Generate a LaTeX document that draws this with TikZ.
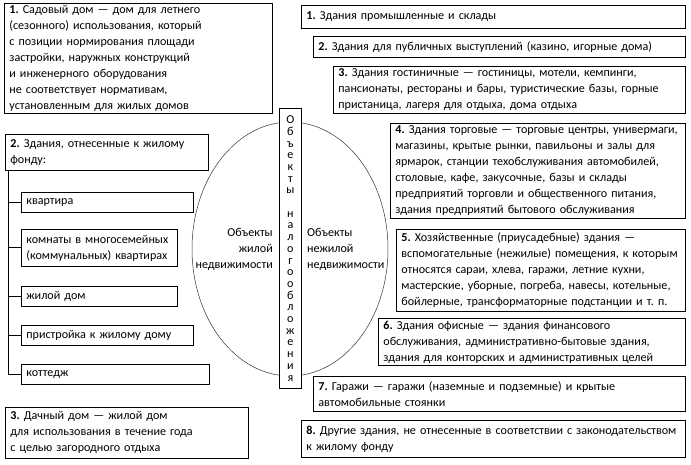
\documentclass[tikz,border=0pt]{standalone}
\usepackage{fontspec}
\setmainfont{Carlito}
\usetikzlibrary{shapes.geometric}
\frenchspacing
\tikzset{
  box/.style={draw, line width=0.8pt, anchor=north west, align=left,
    inner xsep=5pt, inner ysep=0pt, font=\fontsize{12.1}{16}\selectfont,
    execute at begin node={\hbadness=10000\hfuzz=40pt}},
  lbl/.style={font=\fontsize{12.1}{16}\selectfont, inner sep=0pt},
  conn/.style={line width=0.8pt},
}
\begin{document}
\begin{tikzpicture}[x=1pt,y=-1pt]
\useasboundingbox (0,0) rectangle (691,465);
% ellipse
\node[draw, line width=0.5pt, draw=black!80, ellipse, minimum width=196, minimum height=254, inner sep=0pt] (ell) at (290,249) {};
% central vertical box
\node[draw, line width=0.8pt, fill=white, anchor=north west, minimum width=22, minimum height=280, inner sep=0pt, align=center,
  font=\fontsize{12.1}{11.7}\selectfont] (center) at (279,108)
  {О\\б\\ъ\\е\\к\\т\\ы\\~\\н\\а\\л\\о\\г\\о\\о\\б\\л\\о\\ж\\е\\н\\и\\я};
\node[lbl, align=right, anchor=east] (liv) at (273,249) {Объекты\\жилой\\недвижимости};
\node[lbl, align=left, anchor=west] (nliv) at (307,249) {Объекты\\нежилой\\недвижимости};
% left boxes
\node[box, minimum width=268, minimum height=110, text width=258] (L1) at (4,3)
  {\textbf{1.} Садовый дом — дом для летнего\\(сезонного) использования, который\\с позиции нормирования площади\\застройки, наружных конструкций\\и инженерного оборудования\\не соответствует нормативам,\\установленным для жилых домов};
\node[box, minimum width=203, minimum height=36, text width=193] (L2) at (5,134)
  {\textbf{2.} Здания, отнесенные к жилому\\фонду:};
\node[box, minimum width=172, minimum height=20, text width=162] (kv) at (21,192) {квартира};
\node[box, minimum width=156, minimum height=37, text width=146] (kom) at (21,229) {\mbox{комнаты в многосемейных}\\\mbox{(коммунальных) квартирах}};
\node[box, minimum width=156, minimum height=20, text width=146] (zd) at (21,286) {жилой дом};
\node[box, minimum width=172, minimum height=20, text width=162] (pr) at (21,325) {пристройка к жилому дому};
\node[box, minimum width=188, minimum height=20, text width=178] (kot) at (21,364) {коттедж};
\node[box, minimum width=243, minimum height=51, text width=233] (L3) at (5,407)
  {\textbf{3.} Дачный дом — жилой дом\\для использования в течение года\\с целью загородного отдыха};
% tree
\coordinate (trunk) at (8,170);
\draw[conn] (trunk) -- (trunk |- kot.west);
\foreach \b in {kv,kom,zd,pr,kot}{\draw[conn] (trunk |- \b.west) -- (\b.west);}
% right boxes
\node[box, minimum width=384, minimum height=23, text width=374] (R1) at (301,5)
  {\textbf{1.} Здания промышленные и склады};
\node[box, minimum width=372, minimum height=21, text width=362] (R2) at (313,36)
  {\mbox{\textbf{2.} Здания для публичных выступлений (казино, игорные дома)}};
\node[box, minimum width=352, minimum height=47, text width=342] (R3) at (333,66)
  {\mbox{\textbf{3.} Здания гостиничные — гостиницы, мотели, кемпинги,}\\\mbox{пансионаты, рестораны и бары, туристические базы, горные}\\пристаница, лагеря для отдыха, дома отдыха};
\node[box, minimum width=295, minimum height=95, text width=285] (R4) at (390,123)
  {\mbox{\textbf{4.} Здания торговые — торговые центры, универмаги,}\\магазины, крытые рынки, павильоны и залы для\\\mbox{ярмарок, станции техобслуживания автомобилей,}\\столовые, кафе, закусочные, базы и склады\\\mbox{предприятий торговли и общественного питания,}\\здания предприятий бытового обслуживания};
\node[box, minimum width=289, minimum height=82, text width=279] (R5) at (396,229)
  {\textbf{5.} Хозяйственные (приусадебные) здания —\\\mbox{вспомогательные (нежилые) помещения, к которым}\\относятся сараи, хлева, гаражи, летние кухни,\\\mbox{мастерские, уборные, погреба, навесы, котельные,}\\\mbox{бойлерные, трансформаторные подстанции и т.~п.}};
\node[box, minimum width=307, minimum height=47, text width=297] (R6) at (378,318)
  {\textbf{6.} Здания офисные — здания финансового\\\mbox{обслуживания, административно-бытовые здания,}\\\mbox{здания для конторских и административных целей}};
\node[box, minimum width=372, minimum height=35, text width=362] (R7) at (313,376)
  {\textbf{7.} Гаражи — гаражи (наземные и подземные) и крытые\\автомобильные стоянки};
\node[box, minimum width=384, minimum height=37, text width=374] (R8) at (301,420)
  {\mbox{\textbf{8.} Другие здания, не отнесенные в соответствии с законодательством}\\к жилому фонду};
\end{tikzpicture}
\end{document}
